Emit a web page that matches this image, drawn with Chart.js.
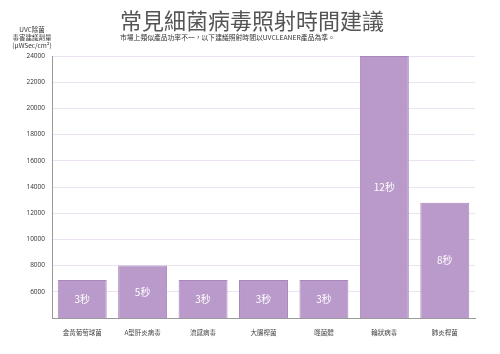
<!DOCTYPE html>
<html>
<head>
<meta charset="utf-8">
<script src="https://cdn.jsdelivr.net/npm/chart.js@4"></script>
<style>
  body { margin: 0; background: #fff; }
  .wrap { width: 500px; height: 354px; position: relative; }
</style>
</head>
<body>
<div class="wrap"><canvas id="myChart"></canvas></div>
<script>
const labels = ['金黃葡萄球菌', 'A型肝炎病毒', '流感病毒', '大腸桿菌', '噬菌體', '輪狀病毒', '肺炎桿菌'];
const doses = [6900, 8000, 6900, 6900, 6900, 24000, 12800];
const times = ['3秒', '5秒', '3秒', '3秒', '3秒', '12秒', '8秒'];
const yTicks = [4000, 24000, 2000];

const CJK = '"Noto Sans CJK TC", "Noto Sans", sans-serif';

// text on top and inside the bars
const textPlugin = {
    id: 'texts',
    afterDatasetsDraw(chart) {
        const c = chart.ctx;
        const meta = chart.getDatasetMeta(0);
        const bottom = chart.chartArea.bottom;
        c.save();
        c.fillStyle = '#fff';
        c.font = '10px ' + CJK;
        c.textAlign = 'center';
        c.textBaseline = 'middle';
        meta.data.forEach(function(bar, i) {
            c.fillText(times[i], bar.x, (bar.y + Math.min(bar.base, bottom)) / 2);
        });
        c.restore();
    },
    afterDraw(chart) {
        const c = chart.ctx;
        c.save();
        c.textAlign = 'center';
        c.textBaseline = 'alphabetic';
        c.fillStyle = '#555';
        c.font = '22px ' + CJK;
        c.fillText('常見細菌病毒照射時間建議', 252, 29);
        c.textAlign = 'left';
        c.fillStyle = '#333';
        c.font = '6.8px ' + CJK;
        c.fillText('市場上類似產品功率不一，以下建議照射時間以UVCLEANER產品為準。', 120, 40);
        c.textAlign = 'center';
        c.font = '6.5px ' + CJK;
        c.fillText('UVC除菌', 32, 32);
        c.fillText('毒害建議劑量', 32, 40);
        c.fillText('(μWSec/cm²)', 32, 48);
        c.restore();
    }
};

const ctx = document.getElementById('myChart').getContext('2d');

const myChart = new Chart(ctx, {
    type: 'bar',
    data: {
        labels: labels,
        datasets: [{
            data: doses,
            backgroundColor: '#ba9aca',
            borderColor: '#a986bc',
            borderWidth: 1,
            barPercentage: 0.81,
            categoryPercentage: 1
        }]
    },
    options: {
        responsive: true,
        maintainAspectRatio: false,
        animation: false,
        layout: { padding: { top: 56, right: 25, bottom: 0, left: 0 } },
        plugins: {
            legend: { display: false },
            tooltip: { enabled: false }
        },
        scales: {
            x: {
                grid: { display: false },
                border: { color: '#999', width: 1 },
                ticks: { color: '#444', font: { size: 6.5, family: CJK }, padding: 3, maxRotation: 0 },
                afterFit: function(s) { s.height = 36; }
            },
            y: {
                min: yTicks[0],
                max: yTicks[1],
                grid: { color: '#ece2f2', drawTicks: false },
                border: { color: '#999', width: 1 },
                ticks: {
                    stepSize: yTicks[2],
                    color: '#333',
                    font: { size: 6.5, family: '"Open Sans", sans-serif' },
                    padding: 7,
                    callback: function(v) { return v === yTicks[0] ? '' : v; }
                },
                afterFit: function(s) { s.width = 52; }
            }
        }
    },
    plugins: [textPlugin]
});
</script>
</body>
</html>
